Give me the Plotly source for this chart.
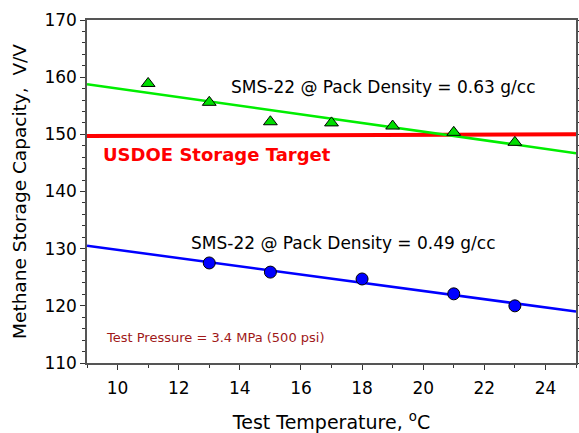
import numpy as np
import plotly.graph_objects as go

# Data
temp_063 = [11, 13, 15, 17, 19, 21, 23]
cap_063 = [158.9, 155.6, 152.2, 152.0, 151.45, 150.35, 148.6]
temp_049 = [13, 15, 18, 21, 23]
cap_049 = [127.5, 125.9, 124.7, 122.1, 120.0]
target_x = [9, 25]
target_y = [149.7, 150.0]
fit_x = [9, 25]

FONT = "DejaVu Sans, Arial, sans-serif"

def fit(xs, ys):
    m, b = np.polyfit(xs, ys, 1)
    return [m * x + b for x in fit_x]

fig = go.Figure()
fig.add_trace(go.Scatter(x=target_x, y=target_y, mode="lines",
                         line=dict(color="#ff0000", width=4), showlegend=False))
fig.add_trace(go.Scatter(x=fit_x, y=fit(temp_063, cap_063), mode="lines",
                         line=dict(color="#00ee00", width=2.5), showlegend=False))
fig.add_trace(go.Scatter(x=fit_x, y=fit(temp_049, cap_049), mode="lines",
                         line=dict(color="#0000ff", width=2.5), showlegend=False))
fig.add_trace(go.Scatter(x=temp_063, y=cap_063, mode="markers",
                         marker=dict(symbol="triangle-up", size=12, color="#00dd00",
                                     line=dict(color="black", width=1)), showlegend=False))
fig.add_trace(go.Scatter(x=temp_049, y=cap_049, mode="markers",
                         marker=dict(symbol="circle", size=12, color="#0000ff",
                                     line=dict(color="black", width=1)), showlegend=False))

fig.add_annotation(x=18.70, y=158.25, text="SMS-22 @ Pack Density = 0.63 g/cc",
                   showarrow=False, font=dict(family=FONT, size=17, color="black"))
fig.add_annotation(x=17.39, y=131.0, text="SMS-22 @ Pack Density = 0.49 g/cc",
                   showarrow=False, font=dict(family=FONT, size=17, color="black"))
fig.add_annotation(x=13.24, y=146.55, text="<b>USDOE Storage Target</b>",
                   showarrow=False, font=dict(family=FONT, size=18, color="#ff0000"))
fig.add_annotation(x=13.22, y=114.45, text="Test Pressure = 3.4 MPa (500 psi)",
                   showarrow=False, font=dict(family=FONT, size=13, color="#a01818"))

fig.update_layout(
    width=579, height=433,
    margin=dict(l=87, r=3, t=20, b=70),
    plot_bgcolor="white", paper_bgcolor="white",
    font=dict(family=FONT, size=17, color="black"),
    xaxis=dict(range=[9, 25], tickvals=[10, 12, 14, 16, 18, 20, 22, 24], automargin=False,
               ticks="outside", ticklen=5, tickcolor="#333", showgrid=False,
               showline=True, linecolor="#555", linewidth=1.5, mirror=True, zeroline=False,
               ticklabelstandoff=4,
               minor=dict(dtick=1, tick0=9, ticks="outside", ticklen=3, tickcolor="#333"),
               title=dict(text="Test Temperature, <sup>o</sup>C", font=dict(size=19), standoff=20),
               tickfont=dict(size=17)),
    yaxis=dict(range=[110, 170], dtick=10, ticks="outside", ticklen=5, tickcolor="#333",
               showgrid=False, showline=True, linecolor="#555", linewidth=1.5, automargin=False,
               mirror="ticks", zeroline=False,
               minor=dict(dtick=2, ticks="outside", ticklen=3, tickcolor="#333"),
               title=dict(text="Methane Storage Capacity,  V/V", font=dict(size=18.5), standoff=13),
               tickfont=dict(size=17)),
)

fig.write_html("out.html")
